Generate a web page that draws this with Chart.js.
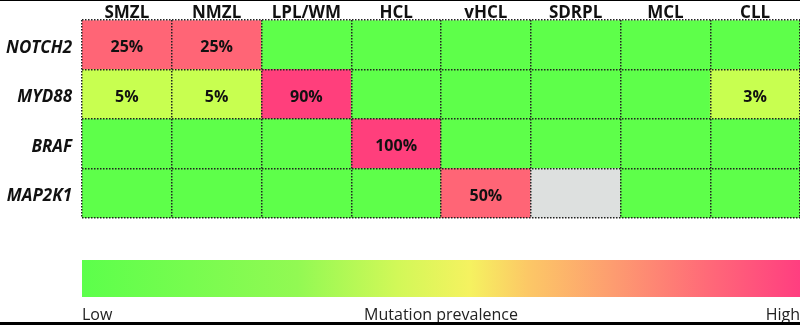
<!DOCTYPE html>
<html>
<head>
<meta charset="utf-8">
<script src="https://cdn.jsdelivr.net/npm/chart.js@4"></script>
<style>
  html, body { margin: 0; padding: 0; background: #fff; }
  #wrap { width: 800px; height: 325px; position: relative; }
</style>
</head>
<body>
<div id="wrap"><canvas id="heatChart"></canvas></div>
<script>
const columns = ['SMZL', 'NMZL', 'LPL/WM', 'HCL', 'vHCL', 'SDRPL', 'MCL', 'CLL'];
const rows = ['NOTCH2', 'MYD88', 'BRAF', 'MAP2K1'];
// mutation prevalence in % (null = not available)
const notch2 = [25, 25, 0, 0, 0, 0, 0, 0];
const myd88 = [5, 5, 90, 0, 0, 0, 0, 3];
const braf = [0, 0, 0, 100, 0, 0, 0, 0];
const map2k1 = [0, 0, 0, 0, 50, null, 0, 0];
const rowValues = [notch2, myd88, braf, map2k1];

function cellColor(v) {
    if (v === null) return '#DDE0DF';
    if (v === 0) return '#5EFF4A';
    if (v < 10) return '#C8FF50';
    if (v < 60) return '#FF6576';
    return '#FF3F7C';
}

// stacked bars: first dataset sits at the bottom, so go through rows reversed
const datasets = rows.map((r, i) => ({
    label: r,
    data: columns.map(() => 1),
    prevalence: rowValues[i],
    backgroundColor: rowValues[i].map(cellColor),
    borderWidth: 0,
    barPercentage: 1,
    categoryPercentage: 1
})).reverse();

const rowsFromBottom = rows.slice().reverse();

const extras = {
    id: 'extras',
    afterDatasetsDraw(chart) {
        const ctx = chart.ctx;
        ctx.save();
        ctx.font = 'bold 16px "Open Sans"';
        ctx.fillStyle = '#111';
        ctx.textAlign = 'center';
        ctx.textBaseline = 'middle';
        chart.data.datasets.forEach((ds, di) => {
            const meta = chart.getDatasetMeta(di);
            meta.data.forEach((bar, j) => {
                const v = ds.prevalence[j];
                if (v) {
                    const p = bar.getProps(['x', 'y', 'base'], true);
                    ctx.fillText(v + '%', p.x, (p.y + p.base) / 2 + 3);
                }
            });
        });
        ctx.restore();
    },
    afterDraw(chart) {
        const ctx = chart.ctx;
        const a = chart.chartArea;
        ctx.save();
        const g = ctx.createLinearGradient(a.left, 0, a.right, 0);
        g.addColorStop(0, '#5CFF4B');
        g.addColorStop(0.3, '#92F953');
        g.addColorStop(0.44, '#D2F858');
        g.addColorStop(0.54, '#F5F260');
        g.addColorStop(0.62, '#FCC866');
        g.addColorStop(0.74, '#FD9C70');
        g.addColorStop(0.87, '#FF6A78');
        g.addColorStop(1, '#FF3E80');
        ctx.fillStyle = g;
        ctx.fillRect(a.left, 260, a.right - a.left, 37);

        ctx.fillStyle = '#222';
        ctx.font = '16px "Open Sans"';
        ctx.textBaseline = 'alphabetic';
        ctx.textAlign = 'left';
        ctx.fillText('Low', a.left, 320);
        ctx.textAlign = 'center';
        ctx.fillText('Mutation prevalence', (a.left + a.right) / 2, 320);
        ctx.textAlign = 'right';
        ctx.fillText('High', a.right, 320);

        ctx.fillStyle = '#000';
        ctx.fillRect(0, 0, chart.width, 1);
        ctx.fillRect(0, 322, chart.width, 3);
        ctx.restore();
    }
};

new Chart(document.getElementById('heatChart'), {
    type: 'bar',
    data: { labels: columns, datasets: datasets },
    options: {
        responsive: true,
        maintainAspectRatio: false,
        animation: false,
        layout: { padding: { top: 0, left: 0, right: 0, bottom: 107 } },
        plugins: {
            legend: { display: false },
            tooltip: { enabled: false }
        },
        scales: {
            x: {
                position: 'top',
                stacked: true,
                afterFit(scale) { scale.height = 20; },
                grid: {
                    offset: true,
                    color: '#222',
                    lineWidth: 1.5,
                    drawTicks: false,
                    z: 1
                },
                border: { display: false, dash: [1.5, 1.5] },
                ticks: {
                    padding: -3,
                    color: '#111',
                    font: { family: 'Open Sans', size: 17, weight: 'bold' }
                }
            },
            y: {
                stacked: true,
                min: 0,
                max: 4,
                afterFit(scale) { scale.width = 82; },
                afterBuildTicks(scale) {
                    scale.ticks = [0.5, 1.5, 2.5, 3.5].map(v => ({ value: v }));
                },
                grid: { display: false, drawTicks: false },
                border: { display: false },
                ticks: {
                    padding: 10,
                    labelOffset: 3,
                    color: '#111',
                    font: { family: 'Open Sans', size: 17, weight: 'bold', style: 'italic' },
                    callback: v => rowsFromBottom[Math.floor(v)]
                }
            },
            y2: {
                position: 'right',
                min: 0,
                max: 4,
                afterFit(scale) { scale.width = 0; },
                afterBuildTicks(scale) {
                    scale.ticks = [0, 1, 2, 3, 4].map(v => ({ value: v }));
                },
                grid: { color: '#222', lineWidth: 1.5, drawTicks: false, z: 1 },
                border: { display: false, dash: [1.5, 1.5] },
                ticks: { display: false }
            }
        }
    },
    plugins: [extras]
});
</script>
</body>
</html>
